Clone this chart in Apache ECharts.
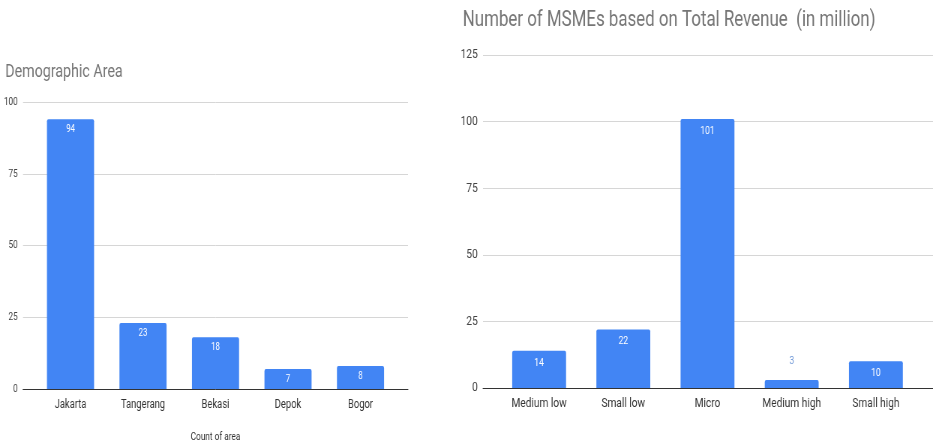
<!DOCTYPE html>
<html>
<head>
<meta charset="utf-8">
<script src="https://cdn.jsdelivr.net/npm/echarts@6/dist/echarts.min.js"></script>
<style>
  html, body { margin: 0; padding: 0; background: #fff; overflow: hidden; }
  #wrap { width: 933px; height: 443px; overflow: hidden; }
  #chart { width: 1244px; height: 443px; transform: scaleX(0.75); transform-origin: 0 0; }
</style>
</head>
<body>
<div id="wrap"><div id="chart"></div></div>
<script>
// ---- data ----
const demoTitle = 'Demographic Area';
const demoCategories = ['Jakarta', 'Tangerang', 'Bekasi', 'Depok', 'Bogor'];
const demoValues = [94, 23, 18, 7, 8];
const demoAxisName = 'Count of area';
const demoTicks = [0, 25, 50, 75, 100];

const revTitle = 'Number of MSMEs based on Total Revenue  (in million)';
const revCategories = ['Medium low', 'Small low', 'Micro', 'Medium high', 'Small high'];
const revValues = [14, 22, 101, 3, 10];
const revTicks = [0, 25, 50, 75, 100, 125];

// ---- styling ----
const W = 1244; // unscaled width (rendered with scaleX 0.75)
const BLUE = '#4285F4';
const FONT = 'Roboto, Arial, sans-serif';

function tickStep(t) { return t[1] - t[0]; }

const chart = echarts.init(document.getElementById('chart'), null, { renderer: 'canvas' });

function lineGrid(l, r, t, b) {
  return { left: l, right: W - r, top: t, bottom: 443 - b, containLabel: false, outerBoundsMode: 'none' };
}

const revData = revValues.map(v => v < 5 ? {
  value: v,
  label: { position: 'top', color: '#6d96d6', distance: 13, fontSize: 11.5 }
} : v);

const option = {
  animation: false,
  textStyle: { fontFamily: FONT },
  title: [
    { text: demoTitle, left: 2, top: 58, textStyle: { fontFamily: FONT, fontSize: 19, fontWeight: 'normal', color: '#757575' } },
    { text: revTitle, left: 612, top: 4, textStyle: { fontFamily: FONT, fontSize: 22.5, fontWeight: 'normal', color: '#757575' } }
  ],
  grid: [
    lineGrid(30.7, 544, 102, 389),
    lineGrid(45.7, 529, 102, 389),
    lineGrid(644, 1244, 55, 388),
    lineGrid(662.7, 1224, 55, 388)
  ],
  xAxis: [
    { gridIndex: 0, type: 'category', data: demoCategories, axisLabel: { show: false }, axisTick: { show: false },
      axisLine: { lineStyle: { color: '#333', width: 1 } }, splitLine: { show: false } },
    { gridIndex: 1, type: 'category', data: demoCategories, axisLine: { show: false }, axisTick: { show: false },
      axisLabel: { color: '#333', fontSize: 12.5, margin: 9, fontFamily: FONT },
      name: demoAxisName, nameLocation: 'middle', nameGap: 43,
      nameTextStyle: { color: '#333', fontSize: 11, fontFamily: FONT } },
    { gridIndex: 2, type: 'category', data: revCategories, axisLabel: { show: false }, axisTick: { show: false },
      axisLine: { lineStyle: { color: '#333', width: 1 } }, splitLine: { show: false } },
    { gridIndex: 3, type: 'category', data: revCategories, axisLine: { show: false }, axisTick: { show: false },
      axisLabel: { color: '#333', fontSize: 13.5, margin: 9, fontFamily: FONT } }
  ],
  yAxis: [
    { gridIndex: 0, type: 'value', min: demoTicks[0], max: demoTicks[demoTicks.length - 1], interval: tickStep(demoTicks),
      axisLine: { show: false }, axisTick: { show: false },
      axisLabel: { color: '#444', fontSize: 11, margin: 7, fontFamily: FONT },
      splitLine: { lineStyle: { color: '#d6d6d6', width: 1 } } },
    { gridIndex: 1, type: 'value', min: demoTicks[0], max: demoTicks[demoTicks.length - 1], show: false, splitLine: { show: false } },
    { gridIndex: 2, type: 'value', min: revTicks[0], max: revTicks[revTicks.length - 1], interval: tickStep(revTicks),
      axisLine: { show: false }, axisTick: { show: false },
      axisLabel: { color: '#444', fontSize: 13.5, margin: 7, fontFamily: FONT },
      splitLine: { lineStyle: { color: '#d6d6d6', width: 1 } } },
    { gridIndex: 3, type: 'value', min: revTicks[0], max: revTicks[revTicks.length - 1], show: false, splitLine: { show: false } }
  ],
  series: [
    { type: 'bar', xAxisIndex: 1, yAxisIndex: 1, data: demoValues, barWidth: '65%',
      itemStyle: { color: BLUE, borderRadius: [2, 2, 0, 0] },
      label: { show: true, position: 'insideTop', distance: 5, color: '#fff', fontSize: 10.5, fontFamily: FONT } },
    { type: 'bar', xAxisIndex: 3, yAxisIndex: 3, data: revData, barWidth: '64%',
      itemStyle: { color: BLUE, borderRadius: [2, 2, 0, 0] },
      label: { show: true, position: 'insideTop', distance: 6, color: '#fff', fontSize: 11.5, fontFamily: FONT } }
  ]
};
chart.setOption(option);
</script>
</body>
</html>
